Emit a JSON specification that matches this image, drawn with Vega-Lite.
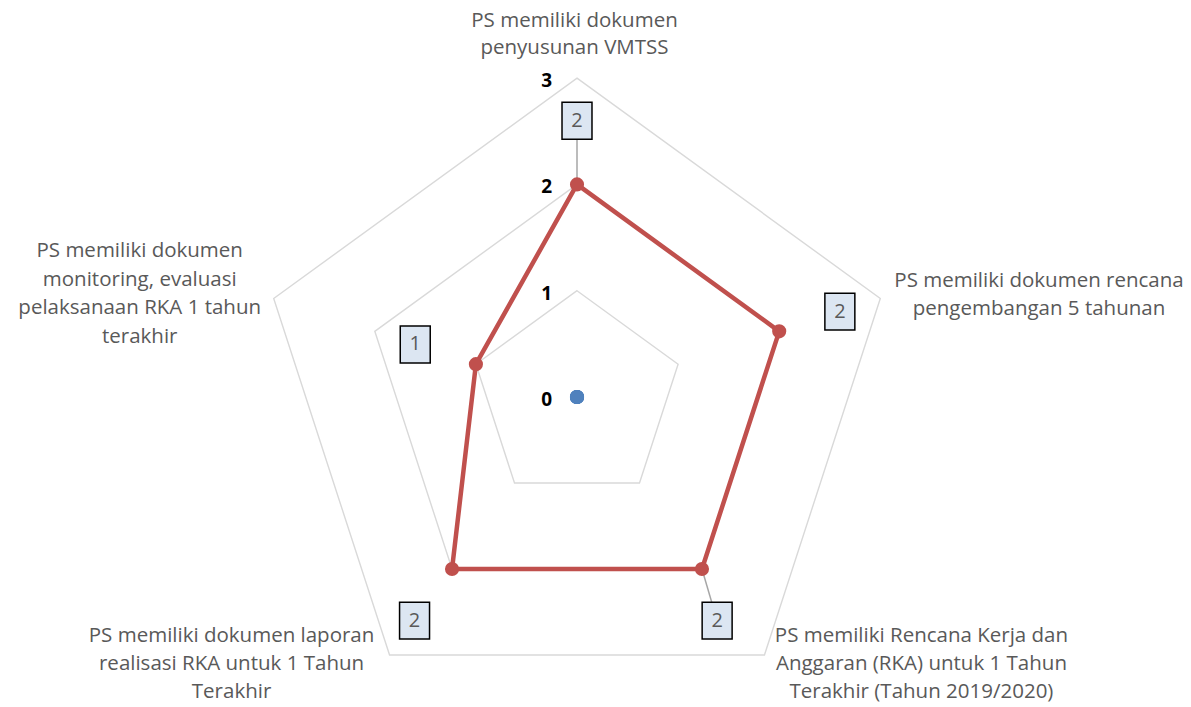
{
  "$schema": "https://vega.github.io/schema/vega-lite/v6.json",
  "width": 1191,
  "height": 707,
  "padding": 0,
  "autosize": {"type": "none"},
  "background": "white",
  "config": {
    "view": {"stroke": null},
    "text": {"font": "Open Sans"}
  },
  "datasets": {
    "series": [
      {"series": "Seri 1", "i": 0, "axis": "PS memiliki dokumen\npenyusunan VMTSS", "value": 0},
      {"series": "Seri 1", "i": 1, "axis": "PS memiliki dokumen rencana\npengembangan 5 tahunan", "value": 0},
      {"series": "Seri 1", "i": 2, "axis": "PS memiliki Rencana Kerja dan\nAnggaran (RKA) untuk 1 Tahun\nTerakhir (Tahun 2019/2020)", "value": 0},
      {"series": "Seri 1", "i": 3, "axis": "PS memiliki dokumen laporan\nrealisasi RKA untuk 1 Tahun\nTerakhir", "value": 0},
      {"series": "Seri 1", "i": 4, "axis": "PS memiliki dokumen\nmonitoring, evaluasi\npelaksanaan RKA 1 tahun\nterakhir", "value": 0},
      {"series": "Seri 2", "i": 0, "axis": "PS memiliki dokumen\npenyusunan VMTSS", "value": 2},
      {"series": "Seri 2", "i": 1, "axis": "PS memiliki dokumen rencana\npengembangan 5 tahunan", "value": 2},
      {"series": "Seri 2", "i": 2, "axis": "PS memiliki Rencana Kerja dan\nAnggaran (RKA) untuk 1 Tahun\nTerakhir (Tahun 2019/2020)", "value": 2},
      {"series": "Seri 2", "i": 3, "axis": "PS memiliki dokumen laporan\nrealisasi RKA untuk 1 Tahun\nTerakhir", "value": 2},
      {"series": "Seri 2", "i": 4, "axis": "PS memiliki dokumen\nmonitoring, evaluasi\npelaksanaan RKA 1 tahun\nterakhir", "value": 1}
    ],
    "grid": [
      {"level": 1, "i": 0}, {"level": 1, "i": 1}, {"level": 1, "i": 2}, {"level": 1, "i": 3}, {"level": 1, "i": 4},
      {"level": 2, "i": 0}, {"level": 2, "i": 1}, {"level": 2, "i": 2}, {"level": 2, "i": 3}, {"level": 2, "i": 4},
      {"level": 3, "i": 0}, {"level": 3, "i": 1}, {"level": 3, "i": 2}, {"level": 3, "i": 3}, {"level": 3, "i": 4}
    ],
    "levels": [{"level": 0}, {"level": 1}, {"level": 2}, {"level": 3}]
  },
  "layer": [
    {
      "data": {"name": "grid"},
      "transform": [
        {"calculate": "PI/2 - datum.i*2*PI/5", "as": "a"},
        {"calculate": "datum.level*cos(datum.a)", "as": "gx"},
        {"calculate": "datum.level*sin(datum.a)", "as": "gy"}
      ],
      "mark": {"type": "line", "interpolate": "linear-closed", "stroke": "#D9D9D9", "strokeWidth": 1.4},
      "encoding": {
        "x": {"field": "gx", "type": "quantitative", "scale": {"domain": [-5.428, 5.776], "nice": false, "zero": false}, "axis": null},
        "y": {"field": "gy", "type": "quantitative", "scale": {"domain": [-2.916, 3.735], "nice": false, "zero": false}, "axis": null},
        "detail": {"field": "level"},
        "order": {"field": "i", "type": "quantitative"}
      }
    },
    {
      "data": {"name": "levels"},
      "mark": {"type": "text", "align": "right", "baseline": "middle", "dx": -25, "dy": 3, "fontSize": 19, "fontWeight": "bold", "color": "#000000"},
      "encoding": {
        "x": {"datum": 0, "type": "quantitative", "scale": {"domain": [-5.428, 5.776], "nice": false, "zero": false}, "axis": null},
        "y": {"field": "level", "type": "quantitative", "scale": {"domain": [-2.916, 3.735], "nice": false, "zero": false}, "axis": null},
        "text": {"field": "level", "type": "quantitative", "format": "d"}
      }
    },
    {
      "data": {"name": "series"},
      "transform": [
        {"filter": "datum.series == 'Seri 2' && (datum.i == 0 || datum.i == 2)"},
        {"calculate": "PI/2 - datum.i*2*PI/5", "as": "a"},
        {"calculate": "datum.value*cos(datum.a)", "as": "px"},
        {"calculate": "datum.value*sin(datum.a)", "as": "py"},
        {"calculate": "(datum.value+0.6)*cos(datum.a) + (datum.i == 2 ? -0.21 : 0)", "as": "lx"},
        {"calculate": "(datum.value+0.6)*sin(datum.a)", "as": "ly"}
      ],
      "mark": {"type": "rule", "stroke": "#A6A6A6", "strokeWidth": 1.5},
      "encoding": {
        "x": {"field": "px", "type": "quantitative", "scale": {"domain": [-5.428, 5.776], "nice": false, "zero": false}, "axis": null},
        "y": {"field": "py", "type": "quantitative", "scale": {"domain": [-2.916, 3.735], "nice": false, "zero": false}, "axis": null},
        "x2": {"field": "lx"},
        "y2": {"field": "ly"}
      }
    },
    {
      "data": {"name": "series"},
      "transform": [
        {"calculate": "PI/2 - datum.i*2*PI/5", "as": "a"},
        {"calculate": "datum.value*cos(datum.a)", "as": "px"},
        {"calculate": "datum.value*sin(datum.a)", "as": "py"}
      ],
      "mark": {"type": "line", "interpolate": "linear-closed", "strokeWidth": 4.5, "strokeJoin": "round"},
      "encoding": {
        "x": {"field": "px", "type": "quantitative", "scale": {"domain": [-5.428, 5.776], "nice": false, "zero": false}, "axis": null},
        "y": {"field": "py", "type": "quantitative", "scale": {"domain": [-2.916, 3.735], "nice": false, "zero": false}, "axis": null},
        "color": {"field": "series", "type": "nominal", "scale": {"domain": ["Seri 1", "Seri 2"], "range": ["#4F81BD", "#C0504D"]}, "legend": null},
        "order": {"field": "i", "type": "quantitative"}
      }
    },
    {
      "data": {"name": "series"},
      "transform": [
        {"calculate": "PI/2 - datum.i*2*PI/5", "as": "a"},
        {"calculate": "datum.value*cos(datum.a)", "as": "px"},
        {"calculate": "datum.value*sin(datum.a)", "as": "py"}
      ],
      "mark": {"type": "point", "filled": true, "opacity": 1, "size": 200, "shape": "circle"},
      "encoding": {
        "x": {"field": "px", "type": "quantitative", "scale": {"domain": [-5.428, 5.776], "nice": false, "zero": false}, "axis": null},
        "y": {"field": "py", "type": "quantitative", "scale": {"domain": [-2.916, 3.735], "nice": false, "zero": false}, "axis": null},
        "color": {"field": "series", "type": "nominal", "scale": {"domain": ["Seri 1", "Seri 2"], "range": ["#4F81BD", "#C0504D"]}, "legend": null}
      }
    },
    {
      "data": {"name": "series"},
      "transform": [
        {"filter": "datum.series == 'Seri 2'"},
        {"calculate": "PI/2 - datum.i*2*PI/5", "as": "a"},
        {"calculate": "(datum.value+0.6)*cos(datum.a) + (datum.i == 2 ? -0.21 : 0)", "as": "lx"},
        {"calculate": "(datum.value+0.6)*sin(datum.a)", "as": "ly"},
        {"calculate": "datum.lx - 0.141", "as": "lx1"},
        {"calculate": "datum.lx + 0.141", "as": "lx2"},
        {"calculate": "datum.ly - 0.174", "as": "ly1"},
        {"calculate": "datum.ly + 0.174", "as": "ly2"}
      ],
      "layer": [
        {
          "mark": {"type": "rect", "fill": "#DCE6F2", "stroke": "#000000", "strokeWidth": 1.5},
          "encoding": {
            "x": {"field": "lx1", "type": "quantitative", "scale": {"domain": [-5.428, 5.776], "nice": false, "zero": false}, "axis": null},
            "y": {"field": "ly1", "type": "quantitative", "scale": {"domain": [-2.916, 3.735], "nice": false, "zero": false}, "axis": null},
            "x2": {"field": "lx2"},
            "y2": {"field": "ly2"}
          }
        },
        {
          "mark": {"type": "text", "align": "center", "baseline": "middle", "dy": 0, "fontSize": 20, "color": "#595959"},
          "encoding": {
            "x": {"field": "lx", "type": "quantitative", "scale": {"domain": [-5.428, 5.776], "nice": false, "zero": false}, "axis": null},
            "y": {"field": "ly", "type": "quantitative", "scale": {"domain": [-2.916, 3.735], "nice": false, "zero": false}, "axis": null},
            "text": {"field": "value", "type": "quantitative", "format": "d"}
          }
        }
      ]
    },
    {
      "data": {"name": "series"},
      "transform": [
        {"filter": "datum.series == 'Seri 2'"},
        {"calculate": "PI/2 - datum.i*2*PI/5", "as": "a"},
        {"calculate": "3*cos(datum.a)", "as": "vx"},
        {"calculate": "3*sin(datum.a)", "as": "vy"}
      ],
      "encoding": {
        "x": {"field": "vx", "type": "quantitative", "scale": {"domain": [-5.428, 5.776], "nice": false, "zero": false}, "axis": null},
        "y": {"field": "vy", "type": "quantitative", "scale": {"domain": [-2.916, 3.735], "nice": false, "zero": false}, "axis": null},
        "text": {"field": "axis", "type": "nominal"}
      },
      "layer": [
        {"transform": [{"filter": "datum.i == 0"}], "mark": {"type": "text", "lineBreak": "\n", "align": "center", "baseline": "alphabetic", "dx": -2.5, "dy": -51, "fontSize": 20.5, "lineHeight": 27, "color": "#595959"}},
        {"transform": [{"filter": "datum.i == 1"}], "mark": {"type": "text", "lineBreak": "\n", "align": "center", "baseline": "alphabetic", "dx": 158.7, "dy": -11.5, "fontSize": 20.5, "lineHeight": 28, "color": "#595959"}},
        {"transform": [{"filter": "datum.i == 2"}], "mark": {"type": "text", "lineBreak": "\n", "align": "center", "baseline": "alphabetic", "dx": 157, "dy": -13, "fontSize": 20.5, "lineHeight": 28, "color": "#595959"}},
        {"transform": [{"filter": "datum.i == 3"}], "mark": {"type": "text", "lineBreak": "\n", "align": "center", "baseline": "alphabetic", "dx": -158, "dy": -13, "fontSize": 20.5, "lineHeight": 28, "color": "#595959"}},
        {"transform": [{"filter": "datum.i == 4"}], "mark": {"type": "text", "lineBreak": "\n", "align": "center", "baseline": "alphabetic", "dx": -134, "dy": -41, "fontSize": 20.5, "lineHeight": 28.5, "color": "#595959"}}
      ]
    }
  ]
}
